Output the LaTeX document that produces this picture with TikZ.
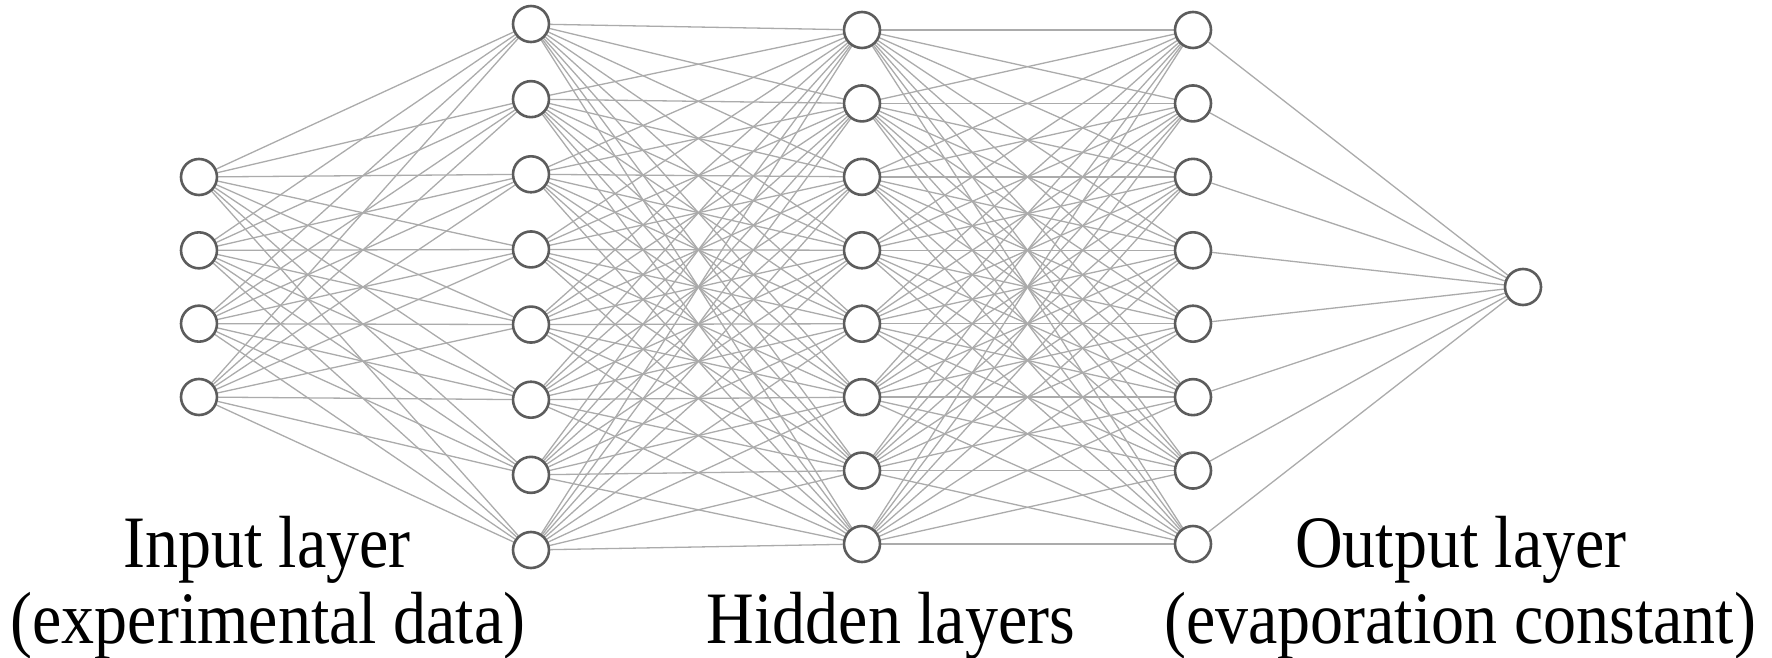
\documentclass[tikz,border=0pt]{standalone}
\usepackage{fontspec}
\setmainfont{Liberation Serif}
\pgfdeclarelayer{bg}
\pgfsetlayers{bg,main}
\definecolor{ncol}{gray}{0.36}
\definecolor{ecol}{gray}{0.67}
\newcommand{\talltext}[1]{\scalebox{1}[1.12]{#1}}
\begin{document}
\begin{tikzpicture}[x=1pt,y=-1pt,
  neuron/.style={circle, draw=ncol, fill=white, line width=2.6pt, minimum size=36pt, inner sep=0pt},
  link/.style={draw=ecol, line width=1.3pt},
  lbl/.style={font=\fontsize{66}{72}\selectfont, anchor=base, inner sep=0pt}]
\useasboundingbox (0,0) rectangle (1772,658);
% input layer
\foreach \i in {1,...,4}
  \node[neuron] (i\i) at (199,{287+73.33*(\i-2.5)}) {};
% hidden layer 1
\foreach \i in {1,...,8}
  \node[neuron] (a\i) at (531,{287+75.14*(\i-4.5)}) {};
% hidden layer 2
\foreach \i in {1,...,8}
  \node[neuron] (b\i) at (862,{287+73.43*(\i-4.5)}) {};
% hidden layer 3
\foreach \i in {1,...,8}
  \node[neuron] (c\i) at (1193,{287+73.43*(\i-4.5)}) {};
% output
\node[neuron] (o) at (1523,287) {};
\begin{pgfonlayer}{bg}
\foreach \p in {1,...,4}
  \foreach \q in {1,...,8}
    \draw[link] (i\p) -- (a\q);
\foreach \p in {1,...,8}
  \foreach \q in {1,...,8}
    {\draw[link] (a\p) -- (b\q);
     \draw[link] (b\p) -- (c\q);}
\foreach \p in {1,...,8}
  \draw[link] (c\p) -- (o);
\end{pgfonlayer}
% labels
\node[lbl] (t1) at (267,567) {\talltext{Input layer}};
\node[lbl] (t2) at (268,643) {\talltext{(experimental data)}};
\node[lbl] (t3) at (891,643) {\talltext{Hidden layers}};
\node[lbl] (t4) at (1461,567) {\talltext{Output layer}};
\node[lbl] (t5) at (1460,643) {\talltext{(evaporation constant)}};
\end{tikzpicture}
\end{document}
